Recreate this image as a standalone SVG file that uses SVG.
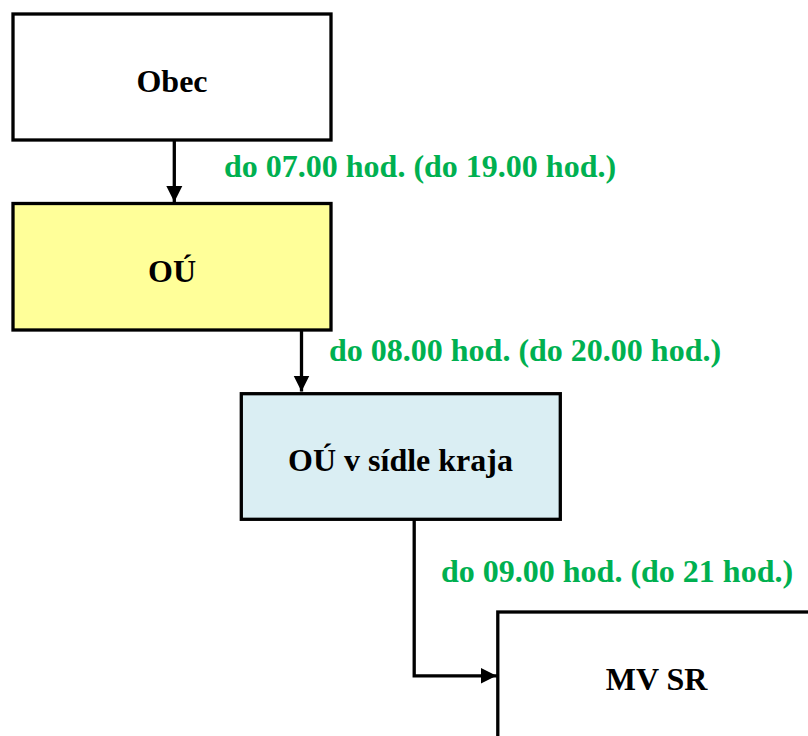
<svg xmlns="http://www.w3.org/2000/svg" width="808" height="736" viewBox="0 0 808 736">
<defs>
<style>
.box{stroke:#000;stroke-width:3.3}
.lbl{font-family:"Liberation Serif","Times New Roman",serif;font-weight:bold;font-size:32px;fill:#000;text-anchor:middle}
.time{font-family:"Liberation Serif","Times New Roman",serif;font-weight:bold;font-size:32px;fill:#00B050}
.conn{fill:none;stroke:#000;stroke-width:3.3}
</style>
<marker id="arr" markerUnits="userSpaceOnUse" markerWidth="18" markerHeight="18" refX="16" refY="9" orient="auto" viewBox="0 0 18 18">
<path d="M0,1 L16,9 L0,17 z" fill="#000"/>
</marker>
</defs>
<rect width="808" height="736" fill="#fff"/>
<g id="connectors">
<line class="conn" x1="174.3" y1="140" x2="174.3" y2="202" marker-end="url(#arr)"/>
<line class="conn" x1="301.5" y1="330" x2="301.5" y2="391.5" marker-end="url(#arr)"/>
<polyline class="conn" points="414.2,519.5 414.2,675.8 496.5,675.8" marker-end="url(#arr)" stroke-linecap="square"/>
</g>
<g id="label-1"><text class="time" x="224" y="177">do 07.00 hod. (do 19.00 hod.)</text></g>
<g id="label-2"><text class="time" x="329" y="361">do 08.00 hod. (do 20.00 hod.)</text></g>
<g id="label-3"><text class="time" x="441" y="582">do 09.00 hod. (do 21 hod.)</text></g>
<g id="obec">
<rect class="box" x="13" y="14" width="318" height="126" fill="#fff"/>
<text class="lbl" x="172" y="92">Obec</text>
</g>
<g id="ou">
<rect class="box" x="13" y="203.5" width="318" height="126.5" fill="#FFFF99"/>
<text class="lbl" x="172" y="282">OÚ</text>
</g>
<g id="ou-kraj">
<rect class="box" x="241.3" y="393.7" width="319" height="125.6" fill="#DAEEF3"/>
<text class="lbl" x="400.5" y="471">OÚ v sídle kraja</text>
</g>
<g id="mvsr">
<rect class="box" x="497.8" y="612" width="318" height="200" fill="#fff"/>
<text class="lbl" x="656.5" y="690">MV SR</text>
</g>
</svg>
